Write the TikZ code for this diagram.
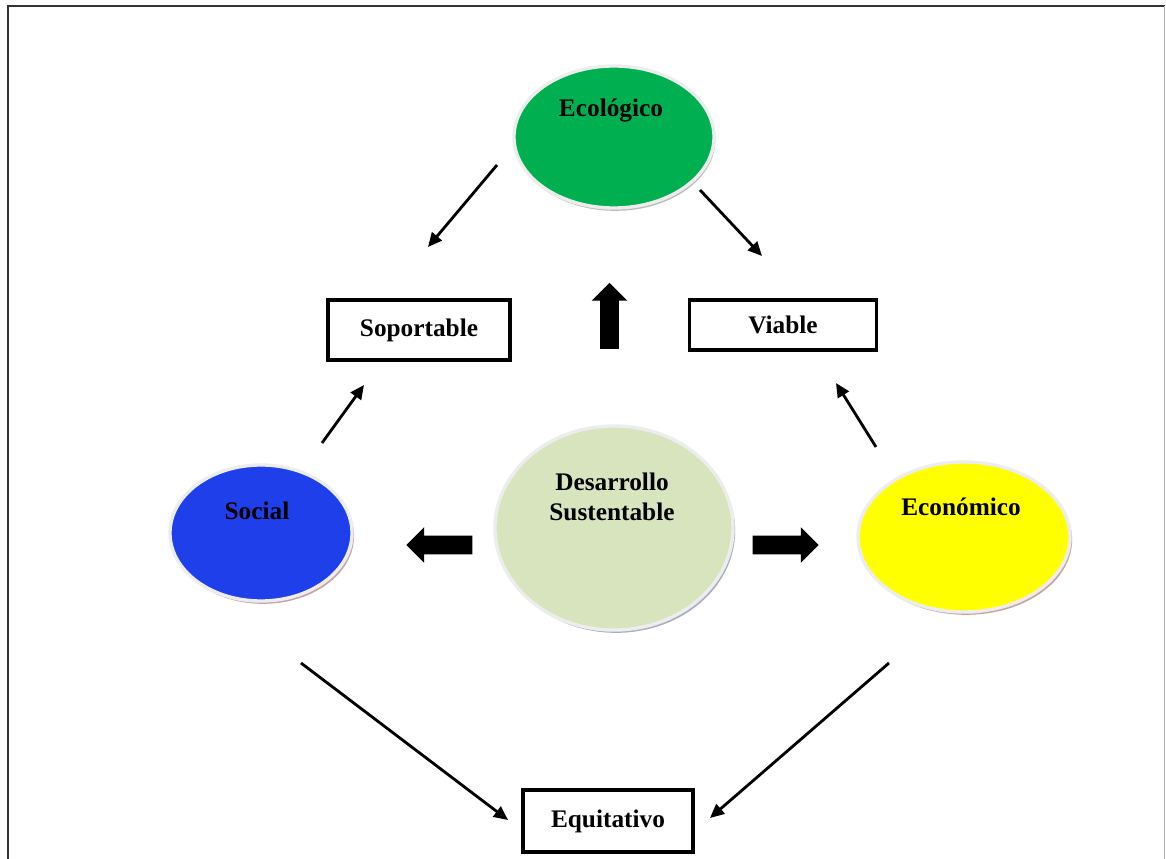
\documentclass[tikz,border=0pt]{standalone}
\usepackage{fontspec}
\setmainfont{Liberation Serif}
\usetikzlibrary{shapes.geometric,shapes.arrows,shadows,arrows.meta}

\definecolor{ecogreen}{HTML}{00B050}
\definecolor{socblue}{HTML}{1F3FEB}
\definecolor{econyellow}{HTML}{FFFF00}
\definecolor{devgreen}{HTML}{D7E4BD}

\tikzset{
  rim/.style={ellipse,draw=black!7,line width=2.4pt,inner sep=0pt},
  lbl/.style={font=\bfseries\fontsize{18}{21}\selectfont,align=center,inner sep=0pt},
  goalbox/.style={rectangle,draw=black,line width=2.6pt,fill=white,
    font=\bfseries\fontsize{18}{21}\selectfont,inner sep=0pt},
  thinarrow/.style={line width=2pt,-{Triangle[length=10pt,width=9pt]}},
  fatarrow/.style={single arrow,fill=black,inner sep=0pt,minimum height=1.65cm,
    text height=0.225cm,text depth=0.225cm,text width=0pt,
    single arrow head extend=0.2125cm,single arrow head indent=0pt}
}

\begin{document}
\begin{tikzpicture}[x=0.025cm,y=-0.025cm]
        \useasboundingbox (0,0) rectangle (1166,859);
        \draw[line width=1.5pt,color=black!80] (8,859) -- (8,6) -- (1165,6);
        \draw[line width=1pt,color=black!30] (1164.5,6) -- (1164.5,859);

        \node[rim,fill=ecogreen,minimum width=5cm,minimum height=3.55cm,
          drop shadow={shadow xshift=1pt,shadow yshift=-2pt,fill=black!45,opacity=0.6}] (eco) at (614,137) {};
        \node[lbl] (ecot) at (611,111) {Ecológico};

        \node[rim,fill=socblue,minimum width=4.55cm,minimum height=3.4cm,
          drop shadow={shadow xshift=1.5pt,shadow yshift=-2pt,fill=red!40!black!60,opacity=0.6}] (soc) at (261,533) {};
        \node[lbl] (soct) at (257,511) {Social};

        \node[rim,fill=devgreen,minimum width=5.95cm,minimum height=5.1cm,
          drop shadow={shadow xshift=1.5pt,shadow yshift=-2pt,fill=blue!30!black!55,opacity=0.6}] (dev) at (614,528) {};
        \node[lbl] (devt) at (612,497) {Desarrollo\\Sustentable};

        \node[rim,fill=econyellow,minimum width=5.3cm,minimum height=3.75cm,
          drop shadow={shadow xshift=1.5pt,shadow yshift=-2pt,fill=red!40!black!60,opacity=0.6}] (econ) at (964,537) {};
        \node[lbl] (econt) at (961,507) {Económico};

        \node[goalbox,minimum width=4.55cm,minimum height=1.5cm] (sop) at (419,330) {Soportable};
        \node[goalbox,minimum width=4.675cm,minimum height=1.25cm] (via) at (783,325) {Viable};
        \node[goalbox,minimum width=4.25cm,minimum height=1.55cm] (equ) at (608,821) {Equitativo};

        \node[fatarrow,rotate=90] (up) at (609.5,320.5) {};
        \node[fatarrow,rotate=180] (left) at (444,545) {};
        \node[fatarrow] (right) at (781,545) {};

        \coordinate (a1) at (497,165);
        \coordinate (b1) at (428,247);
        \coordinate (a2) at (700,190);
        \coordinate (b2) at (762,256);
        \coordinate (a3) at (322,443);
        \coordinate (b3) at (364,385);
        \coordinate (a4) at (876,447);
        \coordinate (b4) at (836,383);
        \coordinate (a5) at (301,663);
        \coordinate (b5) at (508,820);
        \coordinate (a6) at (889,663);
        \coordinate (b6) at (710,818);
        \foreach \i in {1,...,6}
          \draw[thinarrow] (a\i) -- (b\i);
\end{tikzpicture}
\end{document}
